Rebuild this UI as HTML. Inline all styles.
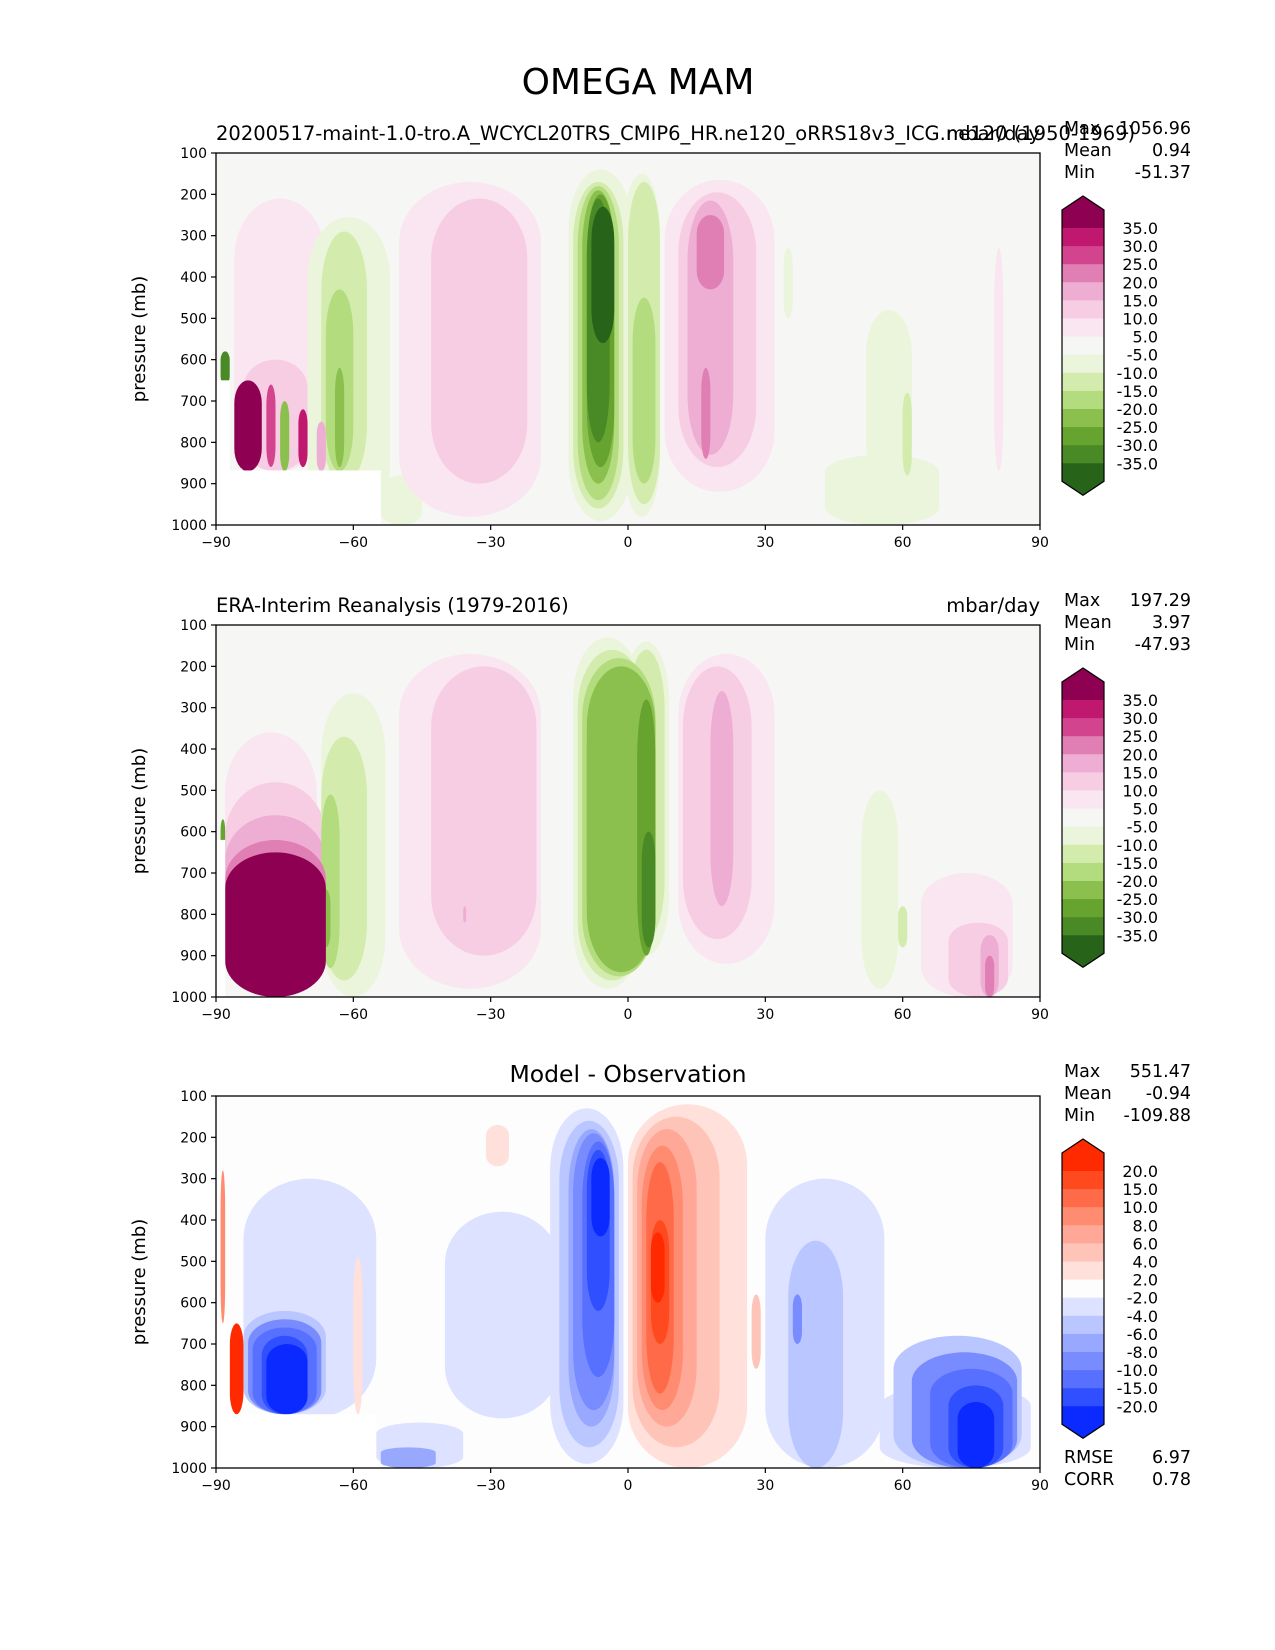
<!DOCTYPE html>
<html><head><meta charset="utf-8"><style>
html,body{margin:0;padding:0;background:#fff}
svg{display:block}
text{font-family:"DejaVu Sans","Liberation Sans",sans-serif;fill:#000}
</style></head><body>
<svg id="fig" width="1275" height="1650" viewBox="0 0 1275 1650" xmlns="http://www.w3.org/2000/svg">
<text x="638" y="94" font-size="36" text-anchor="middle">OMEGA MAM</text>
</svg>
<script>
// ---------- data ----------
const xTicks = [-90,-60,-30,0,30,60,90];
const yTicks = [100,200,300,400,500,600,700,800,900,1000];
const piygLevels = ["35.0","30.0","25.0","20.0","15.0","10.0","5.0","-5.0","-10.0","-15.0","-20.0","-25.0","-30.0","-35.0"];
const diffLevels = ["20.0","15.0","10.0","8.0","6.0","4.0","2.0","-2.0","-4.0","-6.0","-8.0","-10.0","-15.0","-20.0"];
const piygColors = ["#276419","#4a8a26","#66a32f","#8bc04e","#b2dc7e","#d3ecae","#ebf5dc","#f6f6f4","#fae6f0","#f7cde4","#eeaed4","#e07fb3","#d3448f","#c0186f","#8e0152"];
const diffColors = ["#0a2aff","#3050ff","#5870ff","#788cff","#98a8ff","#bac6ff","#dce2ff","#fdfdfd","#ffe0da","#ffc4b8","#ffa898","#ff8c70","#ff6a48","#ff4a20","#ff2a00"];
// blobs: [latStart, latEnd, pTop, pBottom, band]
const modelBlobs = [
 [-86,-66,210,870,1],[-84,-70,600,870,2],
 [-70,-52,255,1000,-1],[-67,-57,290,900,-2],[-66,-60,430,870,-3],[-64,-62,620,860,-4],
 [-54,-45,880,1000,-1],
 [-50,-19,170,980,1],[-43,-22,210,900,2],
 [-13,1,140,990,-1],[-12,-1,170,960,-2],[-11,-2,180,940,-3],[-10,-3,190,900,-4],[-9,-3,200,860,-5],[-9,-4,210,800,-6],[-8,-3,230,560,-7],
 [-1,7,150,980,-1],[0,7,170,950,-2],[1,6,450,900,-3],
 [8,32,165,920,1],[11,28,195,860,2],[13,23,215,830,3],[15,21,250,430,4],[16,18,620,840,4],
 [43,68,830,1000,-1],[52,62,480,900,-1],[60,62,680,880,-2],
 [80,82,330,870,1],[34,36,330,500,-1],[-89,-87,580,660,-6]
];
const modelSpikes = [[-86,-80,650,870,7],[-85,-82,700,870,6],[-79,-77,660,860,5],[-76,-74,700,870,-4],[-72,-70,720,860,6],[-68,-66,750,870,3]];
const modelMask = [[-90,-54,868,1000],[-90,-87,650,868]];
const obsBlobs = [
 [-88,-68,360,1000,1],[-88,-66,480,1000,2],[-88,-66,560,1000,3],[-88,-66,620,1000,4],[-88,-66,650,1000,7],
 [-67,-53,265,1000,-1],[-67,-57,370,960,-2],[-67,-63,510,930,-3],[-67,-65,740,880,-4],
 [-50,-19,170,980,1],[-43,-20,200,900,2],[-36,-36,780,820,3],
 [-12,3,130,980,-1],[-11,4,160,960,-2],[-10,6,180,950,-3],[-9,6,200,940,-4],[-9,2,250,900,-4],[2,6,280,900,-5],[3,6,600,880,-6],
 [-1,9,140,900,-1],[0,8,160,860,-2],
 [11,32,170,920,1],[12,27,200,860,2],[18,23,260,780,3],
 [51,59,500,980,-1],[59,61,780,880,-2],
 [64,84,700,1000,1],[70,83,820,1000,2],[77,81,850,1000,3],[78,80,900,1000,4],[-89,-88,570,680,-5]
];
const obsMask = [[-90,-88,620,1000]];
const diffBlobs = [
 [-84,-55,300,880,-1],[-84,-66,620,870,-2],[-83,-67,640,870,-4],[-82,-68,660,870,-5],[-80,-70,680,870,-6],[-79,-70,700,870,-7],
 [-87,-84,650,870,7],[-89,-88,280,650,4],
 [-55,-36,890,1000,-1],[-54,-42,950,1000,-3],
 [-40,-15,380,880,-1],
 [-31,-26,170,270,1],
 [-17,-1,130,990,-1],[-15,-2,160,950,-2],[-13,-3,180,900,-3],[-12,-3,190,860,-4],[-10,-3,210,780,-5],[-9,-4,230,620,-6],[-8,-4,250,440,-7],
 [0,26,120,1000,1],[1,20,150,950,2],[2,15,180,900,3],[3,12,220,860,4],[4,10,260,820,5],[5,9,400,700,6],[5,8,430,600,7],
 [30,56,300,1000,-1],[35,47,450,1000,-2],[36,38,580,700,-4],
 [55,88,800,1000,-1],[58,86,680,1000,-2],[62,85,720,1000,-4],[66,84,760,1000,-5],[70,82,800,1000,-6],[72,80,840,1000,-7],
 [-60,-58,490,870,1],[27,29,580,760,2]
];
const diffMask = [[-90,-55,870,1000],[-90,-87,650,870]];

// ---------- layout ----------
const AX_L = 216, AX_R = 1040;
const panels = [
 {top:153, name:"model-panel", blobs:modelBlobs.concat(modelSpikes), mask:modelMask, colors:piygColors, bg:"#f6f6f4", levels:piygLevels, left:"20200517-maint-1.0-tro.A_WCYCL20TRS_CMIP6_HR.ne120_oRRS18v3_ICG.ne120 (1950-1969)", right:"mbar/day", stats:[["Max","1056.96"],["Mean","0.94"],["Min","-51.37"]]},
 {top:625, name:"observation-panel", blobs:obsBlobs, mask:obsMask, colors:piygColors, bg:"#f6f6f4", levels:piygLevels, left:"ERA-Interim Reanalysis (1979-2016)", right:"mbar/day", stats:[["Max","197.29"],["Mean","3.97"],["Min","-47.93"]]},
 {top:1096, name:"difference-panel", blobs:diffBlobs, mask:diffMask, colors:diffColors, bg:"#fdfdfd", levels:diffLevels, center:"Model - Observation", stats:[["Max","551.47"],["Mean","-0.94"],["Min","-109.88"]], extra:[["RMSE","6.97"],["CORR","0.78"]]}
];
const H = 372;
const NS = "http://www.w3.org/2000/svg";
const svg = document.getElementById("fig");
function mk(tag, attrs, parent){const e=document.createElementNS(NS,tag);for(const k in attrs)e.setAttribute(k,attrs[k]);(parent||svg).appendChild(e);return e;}
function xs(lat){return AX_L+(lat+90)/180*(AX_R-AX_L);}

panels.forEach((P,pi)=>{
 const ys = p => P.top+(p-100)/900*H;
 const g = mk("g",{});
 
 
 const cp = mk("clipPath",{id:"cp"+pi},g);
 mk("rect",{x:AX_L,y:P.top,width:AX_R-AX_L,height:H},cp);
 const bg = mk("rect",{x:AX_L,y:P.top,width:AX_R-AX_L,height:H,fill:P.bg},g);
 
 
 const cg = mk("g",{"clip-path":"url(#cp"+pi+")"},g);
 const sorted = P.blobs.slice().sort((a,b)=>Math.abs(a[4])-Math.abs(b[4]));
 sorted.forEach(b=>{
  const x0=xs(b[0]), x1=xs(b[1]), y0=ys(b[2]), y1=ys(b[3]);
  const w=Math.max(x1-x0,3), h=y1-y0;
  const r = mk("rect",{x:x0,y:y0,width:w,height:h,rx:w/2,ry:Math.min(h/4,60),fill:P.colors[b[4]+7]},cg);
  
  
 });
 P.mask.forEach(m=>{
  const r = mk("rect",{x:xs(m[0]),y:ys(m[2]),width:xs(m[1])-xs(m[0]),height:ys(m[3])-ys(m[2]),fill:"#ffffff"},cg);
  
  
 });
 const frame = mk("rect",{x:AX_L,y:P.top,width:AX_R-AX_L,height:H,fill:"none",stroke:"#000","stroke-width":1.3},g);
 
 
 xTicks.forEach(t=>{
  mk("line",{x1:xs(t),x2:xs(t),y1:P.top+H,y2:P.top+H+5,stroke:"#000","stroke-width":1.2},g);
  const tx = mk("text",{x:xs(t),y:P.top+H+22,"font-size":14,"text-anchor":"middle"},g);
  tx.textContent = t<0 ? "\u2212"+Math.abs(t) : String(t);
  
  
 });
 yTicks.forEach(t=>{
  mk("line",{x1:AX_L-5,x2:AX_L,y1:ys(t),y2:ys(t),stroke:"#000","stroke-width":1.2},g);
  const tx = mk("text",{x:AX_L-9,y:ys(t)+5,"font-size":14,"text-anchor":"end"},g);
  tx.textContent = String(t);
  
  
 });
 const yl = mk("text",{x:0,y:0,"font-size":18,"text-anchor":"middle",transform:"translate(145,"+(P.top+H/2)+") rotate(-90)"},g);
 yl.textContent = "pressure (mb)";
 
 
 if(P.left){
  const t1 = mk("text",{x:AX_L,y:P.top-13,"font-size":19.5},g);
  t1.textContent = P.left;
  
  
  const t2 = mk("text",{x:AX_R,y:P.top-13,"font-size":19.5,"text-anchor":"end"},g);
  t2.textContent = P.right;
  
  
 }
 if(P.center){
  const t3 = mk("text",{x:(AX_L+AX_R)/2,y:P.top-14,"font-size":23.5,"text-anchor":"middle"},g);
  t3.textContent = P.center;
  
  
 }
 P.stats.forEach((s,i)=>{
  const y = P.top-19+i*22;
  const a = mk("text",{x:1064,y:y,"font-size":17.5},g); a.textContent=s[0];
  
  
  const b = mk("text",{x:1191,y:y,"font-size":17.5,"text-anchor":"end"},g); b.textContent=s[1];
  
  
 });
 if(P.extra){
  P.extra.forEach((s,i)=>{
   const y = 1463+i*22;
   const a = mk("text",{x:1064,y:y,"font-size":17.5},g); a.textContent=s[0];
   
   
   const b = mk("text",{x:1191,y:y,"font-size":17.5,"text-anchor":"end"},g); b.textContent=s[1];
   
   
  });
 }
 const cb = mk("g",{},g);
 
 
 const off = P.top-153;
 const cx0=1062, cx1=1104, seg=18.1, first=228+off;
 const topBase = first-18, botBase = first+13*seg+18;
 mk("polygon",{points:`${cx0},${topBase} ${(cx0+cx1)/2},${topBase-14} ${cx1},${topBase} ${cx1},${first} ${cx0},${first}`,fill:P.colors[14]},cb);
 for(let k=0;k<13;k++){
  mk("rect",{x:cx0,y:first+k*seg,width:cx1-cx0,height:seg+0.5,fill:P.colors[13-k]},cb);
 }
 mk("polygon",{points:`${cx0},${first+13*seg} ${cx1},${first+13*seg} ${cx1},${botBase} ${(cx0+cx1)/2},${botBase+14} ${cx0},${botBase}`,fill:P.colors[0]},cb);
 mk("polygon",{points:`${cx0},${topBase} ${(cx0+cx1)/2},${topBase-14} ${cx1},${topBase} ${cx1},${botBase} ${(cx0+cx1)/2},${botBase+14} ${cx0},${botBase}`,fill:"none",stroke:"#000","stroke-width":1.2},cb);
 P.levels.forEach((l,k)=>{
  const t = mk("text",{x:1158,y:first+k*seg+6,"font-size":16,"text-anchor":"end"},cb);
  t.textContent = l;
  
  
 });
});
</script>
</body></html>
